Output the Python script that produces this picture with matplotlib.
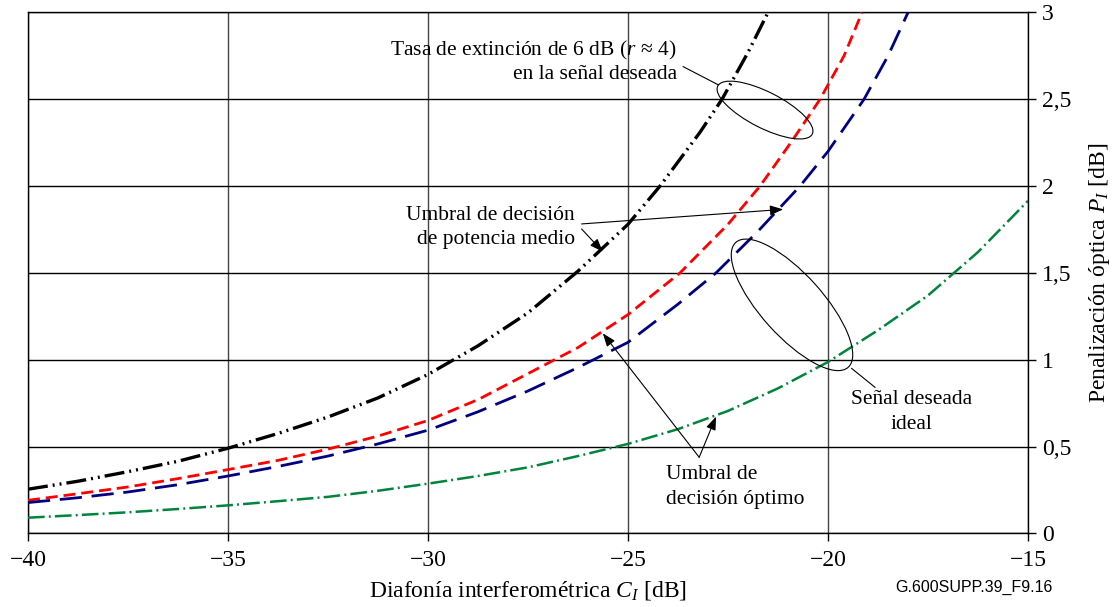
import matplotlib
matplotlib.use("Agg")
import matplotlib.pyplot as plt
from matplotlib.patches import Ellipse
from matplotlib.transforms import IdentityTransform

plt.rcParams['font.family'] = ['Liberation Serif', 'DejaVu Serif']
plt.rcParams['mathtext.fontset'] = 'custom'
plt.rcParams['mathtext.rm'] = 'Liberation Serif'
plt.rcParams['mathtext.it'] = 'Liberation Serif:italic'
plt.rcParams['lines.scale_dashes'] = False

# ---------------- data ----------------
x_black = [-40, -38.75, -37.5, -36.25, -35, -33.75, -32.5, -31.25, -30, -28.75,
           -27.5, -26.25, -25, -24.2, -23.2, -22.65, -22, -21.5]
y_black = [0.254, 0.30, 0.355, 0.415, 0.49, 0.575, 0.67, 0.78, 0.915, 1.08,
           1.27, 1.51, 1.78, 2.0, 2.31, 2.5, 2.77, 3.0]

x_red = [-40, -38.75, -37.5, -36.25, -35, -33.75, -32.5, -31.25, -30, -28.75,
         -27.5, -26.25, -25, -23.7, -22.5, -21.7, -20.9, -20.2, -19.6, -19.15]
y_red = [0.19, 0.228, 0.267, 0.315, 0.367, 0.42, 0.485, 0.56, 0.65, 0.77,
         0.92, 1.07, 1.26, 1.5, 1.78, 2.0, 2.26, 2.5, 2.75, 3.0]

x_blue = [-40, -38.75, -37.5, -36.25, -35, -33.75, -32.5, -31.25, -30, -28.75,
          -27.5, -26.25, -25, -23.75, -22.8, -21.75, -20.7, -20, -19.1, -18.5, -18.0]
y_blue = [0.177, 0.205, 0.238, 0.28, 0.33, 0.385, 0.445, 0.515, 0.594, 0.70,
          0.82, 0.955, 1.10, 1.32, 1.5, 1.74, 2.0, 2.2, 2.5, 2.75, 3.0]

x_green = [-40, -38.75, -37.5, -36.25, -35, -33.75, -32.5, -31.25, -30, -28.75,
           -27.5, -26.25, -25, -23.75, -22.5, -21.25, -20, -18.75, -17.5, -16.25, -15]
y_green = [0.09, 0.105, 0.121, 0.14, 0.161, 0.185, 0.21, 0.245, 0.286, 0.33,
           0.38, 0.445, 0.515, 0.60, 0.705, 0.835, 0.987, 1.17, 1.37, 1.62, 1.915]

x_ticks = [-40, -35, -30, -25, -20, -15]
x_tick_labels = ['\u221240', '\u221235', '\u221230', '\u221225', '\u221220', '\u221215']
y_ticks = [0, 0.5, 1, 1.5, 2, 2.5, 3]
y_tick_labels = ['0', '0,5', '1', '1,5', '2', '2,5', '3']

# ---------------- figure ----------------
fig = plt.figure(figsize=(11.12, 6.07), dpi=100)
ax = fig.add_axes([0.02518, 0.12141, 0.89928, 0.8580])
ax.set_xlim(-40, -15)
ax.set_ylim(0, 3)

for xv in x_ticks:
    ax.axvline(xv, color='#444444', lw=1.0, zorder=1)
for yv in y_ticks:
    ax.axhline(yv, color='black', lw=1.0, zorder=1)

ax.plot(x_black, y_black, color='black', lw=2.4,
        dashes=(14.4, 3.6, 1.4, 3.6, 1.4, 3.6), zorder=3)
ax.plot(x_red, y_red, color='#FF0000', lw=2.0, dashes=(8.6, 4.3), zorder=3)
ax.plot(x_blue, y_blue, color='#000080', lw=2.0, dashes=(16, 7), zorder=3)
ax.plot(x_green, y_green, color='#00843D', lw=1.8,
        dashes=(12, 3, 1.4, 3), zorder=3)

for s in ax.spines.values():
    s.set_linewidth(1.0)
    s.set_color('black')

tfs = 17
ax.set_xticks(x_ticks)
ax.set_xticklabels(x_tick_labels, fontsize=tfs)
ax.yaxis.tick_right()
ax.set_yticks(y_ticks)
ax.set_yticklabels(y_tick_labels, fontsize=tfs)
ax.tick_params(axis='x', direction='out', length=6, width=1, pad=6)
ax.tick_params(axis='y', direction='out', length=6, width=1, pad=4)

ax.set_xlabel('Diafonía interferométrica $C_I$ [dB]', fontsize=tfs, labelpad=6)
ax.yaxis.set_label_position('right')
ax.set_ylabel('Penalización óptica $P_I$ [dB]', fontsize=tfs, labelpad=11)

# ---------------- annotations ----------------
fs = 15.5
ax.text(-23.78, 2.784, 'Tasa de extinción de 6 dB ($r$ \u2248 4)', ha='right', va='center', fontsize=fs)
ax.text(-23.78, 2.64, 'en la señal deseada', ha='right', va='center', fontsize=fs)
ax.plot([-23.62, -22.74], [2.688, 2.583], color='black', lw=0.8, zorder=4)

ax.text(-26.33, 1.833, 'Umbral de decisión', ha='right', va='center', fontsize=fs)
ax.text(-26.33, 1.69, 'de potencia medio', ha='right', va='center', fontsize=fs)
arrow_kw = dict(arrowstyle='-|>,head_length=0.8,head_width=0.3', color='black', lw=0.8,
                shrinkA=0, shrinkB=0)
ax.annotate('', xy=(-21.12, 1.866), xytext=(-26.16, 1.782), arrowprops=arrow_kw, zorder=4)
ax.annotate('', xy=(-25.63, 1.622), xytext=(-26.16, 1.753), arrowprops=arrow_kw, zorder=4)

ax.text(-24.06, 0.336, 'Umbral de', ha='left', va='center', fontsize=fs)
ax.text(-24.06, 0.196, 'decisión óptimo', ha='left', va='center', fontsize=fs)
ax.annotate('', xy=(-25.63, 1.152), xytext=(-23.22, 0.438), arrowprops=arrow_kw, zorder=4)
ax.annotate('', xy=(-22.8, 0.672), xytext=(-23.22, 0.438), arrowprops=arrow_kw, zorder=4)

ax.text(-17.91, 0.768, 'Señal deseada', ha='center', va='center', fontsize=fs)
ax.text(-17.91, 0.624, 'ideal', ha='center', va='center', fontsize=fs)
ax.plot([-19.41, -18.825], [0.950, 0.841], color='black', lw=0.8, zorder=4)

# ellipses drawn in pixel units, centred on data points
for (ex, ey, w, h, ang) in [(-21.575, 2.438, 106, 36, -27), (-20.9, 1.316, 168, 62, -48)]:
    cx, cy = ax.transData.transform((ex, ey))
    e = Ellipse((cx, cy), w, h, angle=ang, transform=IdentityTransform(),
                fill=False, edgecolor='black', lw=0.8, zorder=4)
    ax.add_patch(e)

fig.text(0.876, 0.033, 'G.600SUPP.39_F9.16', ha='center', va='center',
         fontsize=11.5, family='Liberation Sans')

fig.savefig('out.png', dpi=100)
